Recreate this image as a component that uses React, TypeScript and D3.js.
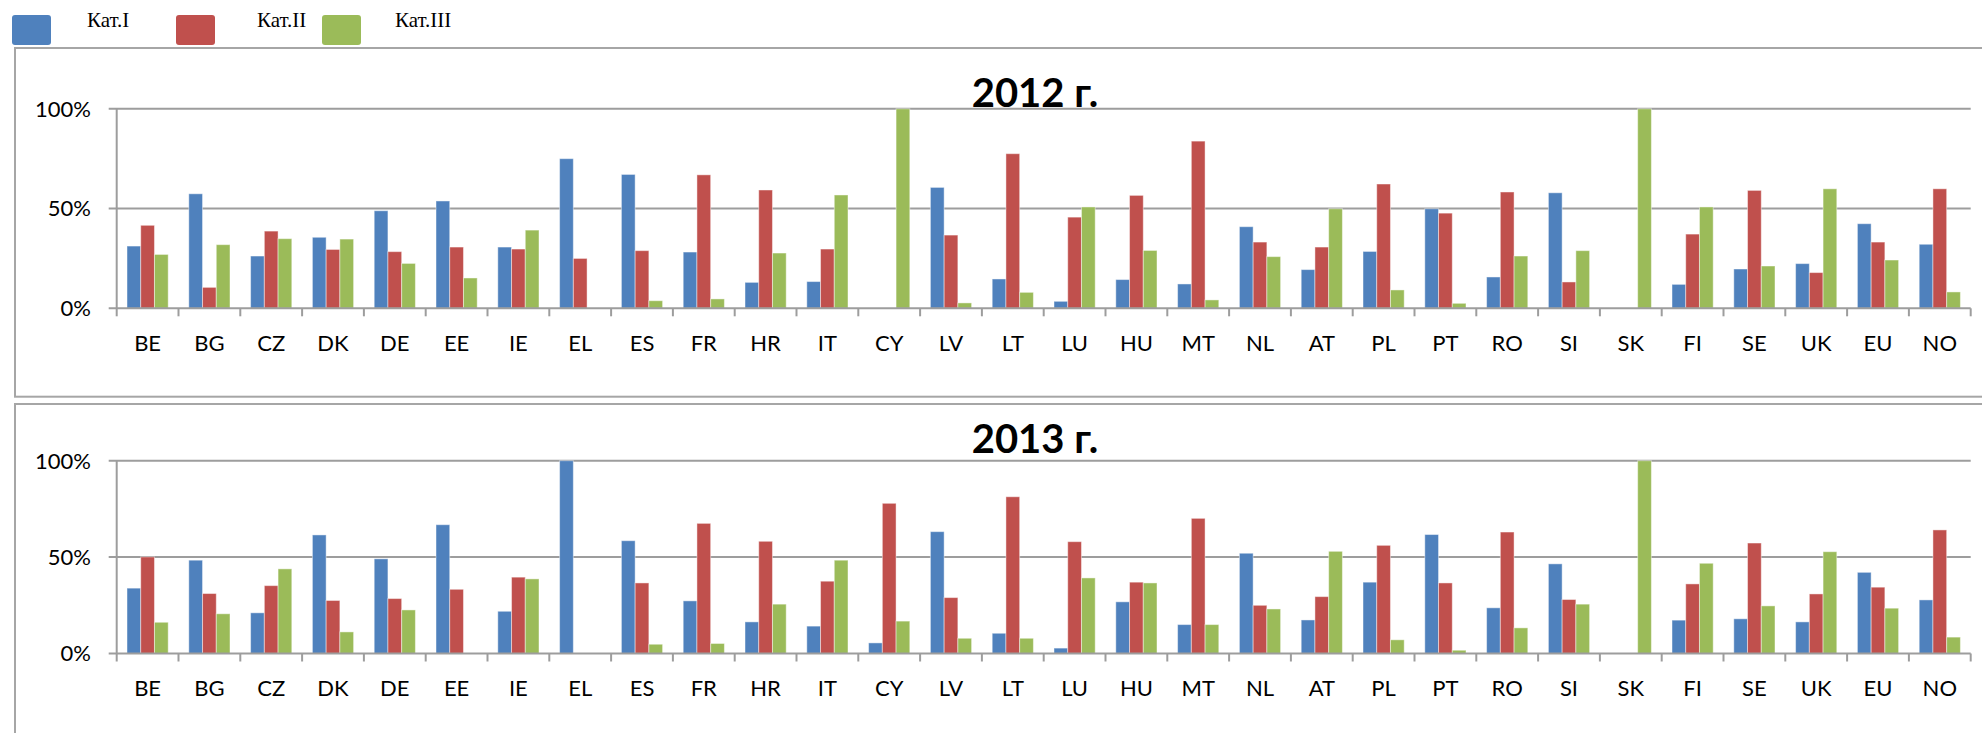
import React, { useLayoutEffect } from 'react';
import * as d3 from 'd3';

const categories = ['BE', 'BG', 'CZ', 'DK', 'DE', 'EE', 'IE', 'EL', 'ES', 'FR', 'HR', 'IT', 'CY', 'LV', 'LT', 'LU', 'HU', 'MT', 'NL', 'AT', 'PL', 'PT', 'RO', 'SI', 'SK', 'FI', 'SE', 'UK', 'EU', 'NO'];

const seriesNames = ['Кат.I', 'Кат.II', 'Кат.III'];
const seriesColors = ['#4F81BD', '#C0504D', '#9BBB59'];

// 2012, shares in %
const kat1_2012 = [31.2, 57.4, 26.2, 35.6, 48.9, 53.8, 30.7, 75.0, 67.1, 28.2, 13.0, 13.4, 0, 60.6, 14.7, 3.5, 14.4, 12.2, 40.9, 19.4, 28.5, 49.9, 15.7, 57.9, 0, 12.0, 19.7, 22.4, 42.4, 32.1];
const kat2_2012 = [41.6, 10.5, 38.7, 29.5, 28.4, 30.7, 29.7, 25.0, 28.9, 66.9, 59.3, 29.7, 0, 36.7, 77.5, 45.7, 56.6, 83.8, 33.2, 30.7, 62.3, 47.7, 58.3, 13.2, 0, 37.2, 59.1, 17.9, 33.2, 59.9];
const kat3_2012 = [27.0, 31.9, 34.9, 34.7, 22.5, 15.2, 39.2, 0, 3.8, 4.7, 27.7, 56.8, 100, 2.7, 8.0, 50.8, 29.0, 4.2, 25.9, 49.9, 9.2, 2.5, 26.2, 28.9, 100, 50.8, 21.2, 59.9, 24.2, 8.2];

// 2013, shares in %
const kat1_2013 = [33.9, 48.4, 21.1, 61.5, 49.1, 66.8, 21.9, 100, 58.5, 27.3, 16.4, 14.2, 5.5, 63.2, 10.5, 2.8, 26.8, 15.0, 52.0, 17.4, 37.0, 61.7, 23.7, 46.5, 0, 17.3, 18.0, 16.4, 42.1, 27.8];
const kat2_2013 = [50.1, 31.1, 35.2, 27.5, 28.5, 33.3, 39.6, 0, 36.6, 67.5, 58.2, 37.5, 77.9, 29.0, 81.3, 58.0, 37.0, 70.1, 25.0, 29.5, 56.1, 36.6, 63.0, 28.0, 0, 36.1, 57.3, 30.9, 34.4, 64.1];
const kat3_2013 = [16.2, 20.6, 43.9, 11.2, 22.6, 0, 38.7, 0, 4.8, 5.2, 25.6, 48.4, 16.8, 7.9, 7.9, 39.2, 36.6, 15.0, 23.1, 53.0, 7.1, 1.7, 13.3, 25.6, 100, 46.8, 24.7, 52.8, 23.5, 8.5];

const yTicks = [0, 50, 100];

const AXIS_COLOR = '#9d9d9d';
const SANS = 'Lato, "Open Sans", sans-serif';

interface PanelProps {
  title: string;
  series: number[][];
  y0: number;
  y100: number;
  titleY: number;
  labelY: number;
}

const Panel: React.FC<PanelProps> = ({ title, series, y0, y100, titleY, labelY }) => {
  const xLeft = 116.7;
  const xRight = 1970.7;

  const x = d3.scaleBand<string>().domain(categories).range([xLeft, xRight]).padding(0);
  // gap width 150% like the Excel default
  const xInner = d3.scaleBand<number>().domain([0, 1, 2]).range([0, x.bandwidth()]).paddingInner(0).paddingOuter(0.75);
  const y = d3.scaleLinear().domain([0, 100]).range([y0, y100]);

  const boundaries = categories.map((c) => x(c) as number).concat([xRight]);

  return (
    <g>
      {/* gridlines */}
      {yTicks.filter((t) => t > 0).map((t) => (
        <line key={'g' + t} x1={xLeft - 8} x2={xRight} y1={y(t)} y2={y(t)} stroke={AXIS_COLOR} strokeWidth={2} />
      ))}

      {/* bars */}
      {series.map((vals, si) => (
        <g key={'s' + si} fill={seriesColors[si]}>
          {vals.map((v, i) => v > 0 && (
            <rect
              key={i}
              x={(x(categories[i]) as number) + (xInner(si) as number)}
              y={y(v)}
              width={xInner.bandwidth()}
              height={y0 - y(v)}
              stroke="#ffffff"
              strokeOpacity={0.45}
              strokeWidth={1}
            />
          ))}
        </g>
      ))}

      {/* axes */}
      <line x1={xLeft} x2={xLeft} y1={y100} y2={y0} stroke={AXIS_COLOR} strokeWidth={2} />
      <line x1={xLeft - 8} x2={xRight} y1={y0} y2={y0} stroke={AXIS_COLOR} strokeWidth={2} />
      {boundaries.map((bx, i) => (
        <line key={'t' + i} x1={bx} x2={bx} y1={y0} y2={y0 + 8} stroke={AXIS_COLOR} strokeWidth={2} />
      ))}

      {/* y tick labels */}
      {yTicks.map((t) => (
        <text key={'yl' + t} x={91} y={y(t) + 7.8} textAnchor="end" fontFamily={SANS} fontSize={22} fill="#000">
          {t + '%'}
        </text>
      ))}

      {/* category labels */}
      {categories.map((c) => (
        <text key={'xl' + c} x={(x(c) as number) + x.bandwidth() / 2} y={labelY} textAnchor="middle" fontFamily={SANS} fontSize={22} fill="#000">
          {c}
        </text>
      ))}

      <text x={1035} y={titleY} textAnchor="middle" fontFamily={SANS} fontWeight={700} fontSize={40} fill="#000">
        {title}
      </text>
    </g>
  );
};

const App: React.FC = () => {
  useLayoutEffect(() => {
    document.body.style.margin = '0';
  }, []);

  const legendX = [12, 176, 322];
  const legendTextX = [87, 257, 395];

  return (
    <svg width={1982} height={733} style={{ display: 'block', background: '#fff' }}>
      {/* panel frames */}
      <rect x={15} y={48} width={2000} height={348.7} fill="none" stroke="#a6a6a6" strokeWidth={2} />
      <rect x={15} y={404} width={2000} height={400} fill="none" stroke="#a6a6a6" strokeWidth={2} />

      {/* legend */}
      {seriesNames.map((name, i) => (
        <g key={name}>
          <rect x={legendX[i]} y={15} width={39} height={30} rx={3} fill={seriesColors[i]} />
          <text x={legendTextX[i]} y={27.3} fontFamily='"Liberation Serif", "Times New Roman", serif' fontSize={21} fill="#000">
            {name}
          </text>
        </g>
      ))}

      <Panel title="2012 г." series={[kat1_2012, kat2_2012, kat3_2012]} y0={308.3} y100={108.8} titleY={107} labelY={351} />
      <Panel title="2013 г." series={[kat1_2013, kat2_2013, kat3_2013]} y0={653.5} y100={460.7} titleY={453} labelY={696} />
    </svg>
  );
};

export default App;
